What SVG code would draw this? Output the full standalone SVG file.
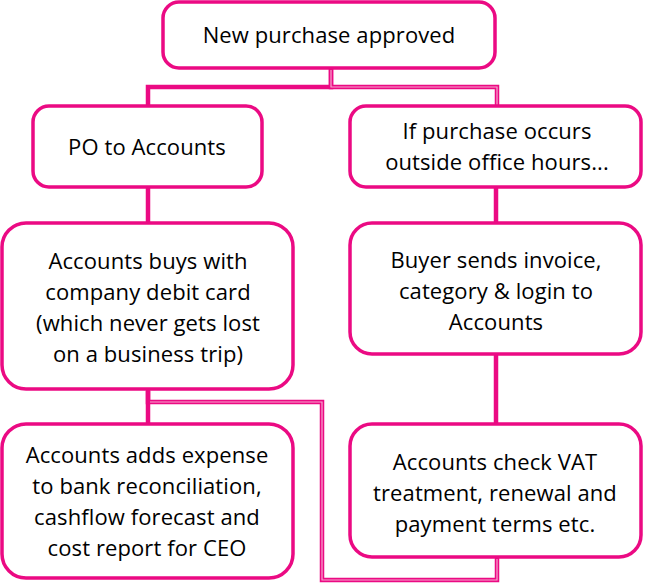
<svg xmlns="http://www.w3.org/2000/svg" width="646" height="586" viewBox="0 0 646 586">
<style>
.box{fill:#fff;stroke:#EB0A83;stroke-width:3.5}
.ln{fill:none;stroke:#EB0A83;stroke-width:4.5;stroke-linejoin:miter}
.dbl{fill:none;stroke:#F7A8CF;stroke-width:1.2}
text{font-family:"Open Sans","Liberation Sans",Arial,sans-serif;font-size:22px;letter-spacing:0.1px;fill:#000;text-anchor:middle}
</style>
<rect width="646" height="586" fill="#fff"/>
<g id="connectors">
<polyline class="ln" points="331,68 331,87 148,87 148,107"/>
<polyline class="ln" points="331,68 331,87 497,87 497,107"/>
<polyline class="dbl" points="331,70 331,87 497,87 497,105"/>
<line class="ln" x1="148" y1="187" x2="148" y2="224"/>
<line class="ln" x1="496" y1="187" x2="496" y2="224"/>
<line class="ln" x1="148" y1="389" x2="148" y2="424"/>
<line class="ln" x1="496" y1="354" x2="496" y2="424"/>
<polyline class="ln" points="148,391 148,402 322,402 322,580 497,580 497,557"/>
<polyline class="dbl" points="150,402 322,402 322,580 497,580 497,559"/>
</g>
<g id="n1"><rect class="box" x="163" y="2" width="332" height="66" rx="16"/><text x="329" y="43">New purchase approved</text></g>
<g id="n2"><rect class="box" x="33" y="106" width="229" height="81" rx="16"/><text x="147" y="155">PO to Accounts</text></g>
<g id="n3"><rect class="box" x="350" y="106" width="291" height="81" rx="16"/><text x="497" y="139">If purchase occurs</text><text x="497" y="170">outside office hours...</text></g>
<g id="n4"><rect class="box" x="2" y="223" width="291" height="166" rx="24"/><text x="148" y="269">Accounts buys with</text><text x="148" y="300">company debit card</text><text x="148" y="331">(which never gets lost</text><text x="148" y="362">on a business trip)</text></g>
<g id="n5"><rect class="box" x="350" y="223" width="291" height="131" rx="22"/><text x="496" y="268">Buyer sends invoice,</text><text x="496" y="299">category &amp; login to</text><text x="496" y="330">Accounts</text></g>
<g id="n6"><rect class="box" x="2" y="424" width="291" height="154" rx="24"/><text x="147" y="463">Accounts adds expense</text><text x="147" y="494">to bank reconciliation,</text><text x="147" y="525">cashflow forecast and</text><text x="147" y="556">cost report for CEO</text></g>
<g id="n7"><rect class="box" x="350" y="424" width="291" height="133" rx="22"/><text x="495" y="470">Accounts check VAT</text><text x="495" y="501">treatment, renewal and</text><text x="495" y="532">payment terms etc.</text></g>
</svg>
